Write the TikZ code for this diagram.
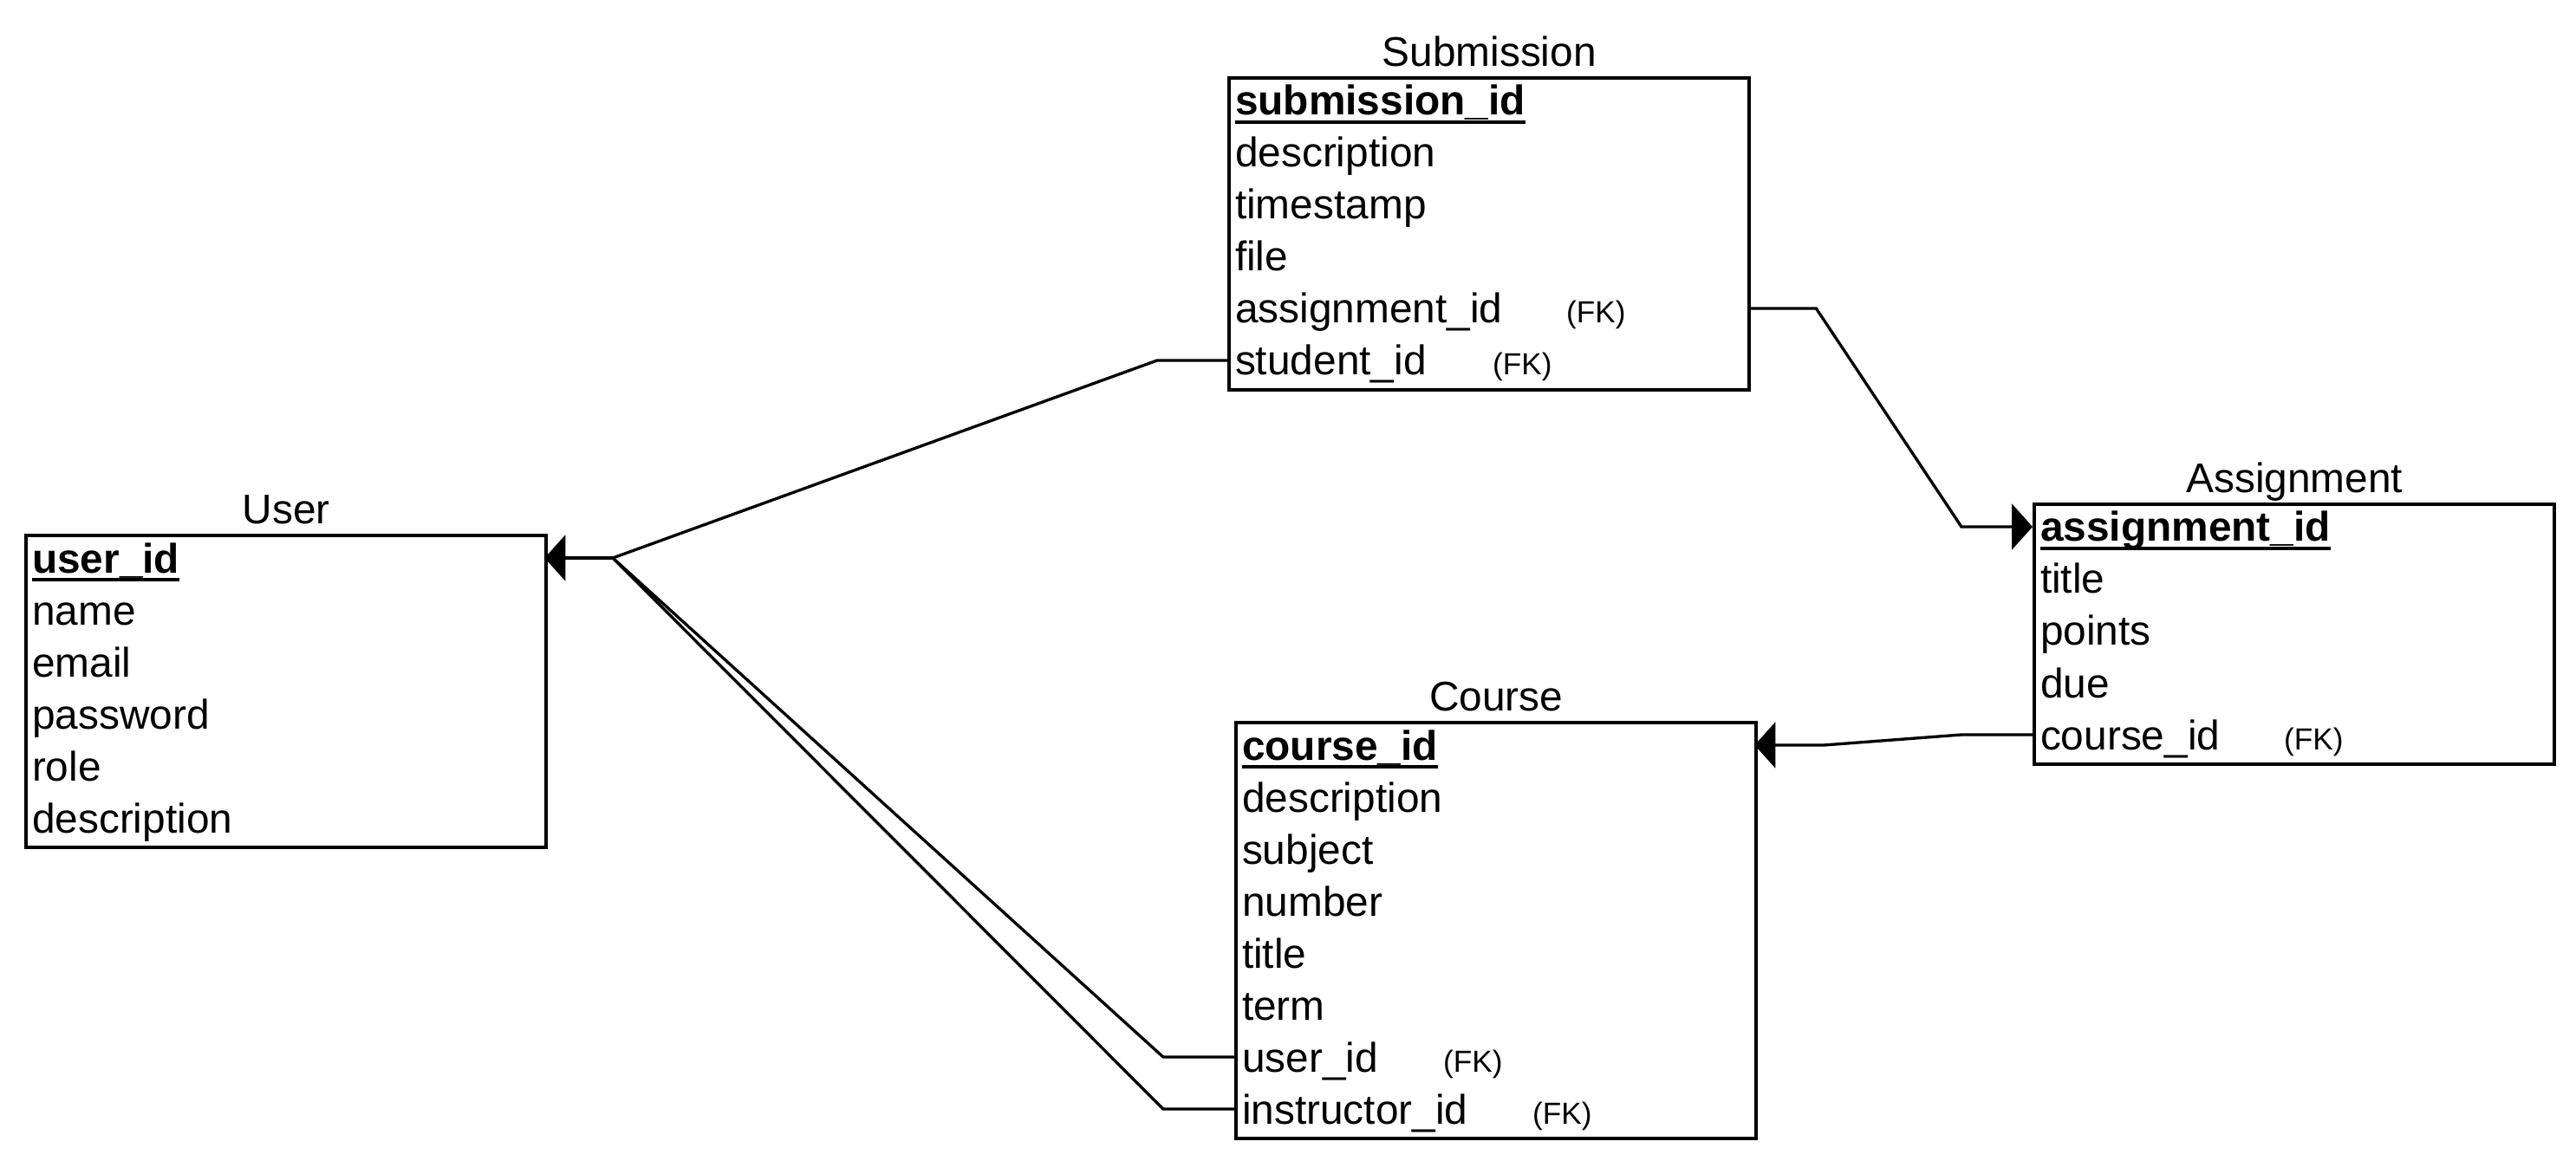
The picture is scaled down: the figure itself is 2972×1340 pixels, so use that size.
\documentclass[tikz,border=0pt]{standalone}
\usepackage{fontspec}
\setmainfont{Liberation Sans}
\usetikzlibrary{arrows.meta}
\newcommand\fs{\fontsize{13.6pt}{16pt}\selectfont}
\newcommand\fkfs{\fontsize{10pt}{12pt}\selectfont}
\newcommand\fk{{\fkfs (FK)}}
\newsavebox\pkbox
\newcommand\pkul[1]{\sbox\pkbox{\textbf{#1}}\rlap{\rule[-2.8pt]{\wd\pkbox}{1.1pt}}\usebox\pkbox}
\begin{document}
\begin{tikzpicture}[x=0.01cm,y=-0.01cm,
  tbl/.style={draw, line width=1.15pt, inner sep=0pt, minimum width=6cm, anchor=north west},
  rowc/.style={anchor=west, inner xsep=0.09cm, inner ysep=0pt, outer sep=0pt, text width=5.82cm, align=left, text height=9.67pt, text depth=0pt, minimum height=0.6cm, font=\fs},
  ttl/.style={anchor=base, font=\fs, inner sep=0pt},
  conn/.style={line width=0.95pt, line join=miter},
  tip/.style={-{Triangle[length=6.8pt,width=15pt]}}
]
\useasboundingbox (0,0) rectangle (2972,1340);

% ---------- User ----------
\node[tbl, minimum height=3.6cm] (user) at (28,616) {};
\node[ttl] (userT) at ([yshift=0.11cm]user.north) {User};
\node[rowc] (u1) at (28,644) {\pkul{user\_id}};
\node[rowc] (u2) at (28,704) {name};
\node[rowc] (u3) at (28,764) {email};
\node[rowc] (u4) at (28,824) {password};
\node[rowc] (u5) at (28,884) {role};
\node[rowc] (u6) at (28,944) {description};

% ---------- Submission ----------
\node[tbl, minimum height=3.6cm] (sub) at (1416,88) {};
\node[ttl] (subT) at ([yshift=0.11cm]sub.north) {Submission};
\node[rowc] (s1) at (1416,116) {\pkul{submission\_id}};
\node[rowc] (s2) at (1416,176) {description};
\node[rowc] (s3) at (1416,236) {timestamp};
\node[rowc] (s4) at (1416,296) {file};
\node[rowc] (s5) at (1416,356) {\makebox[3.82cm][l]{assignment\_id}\fk};
\node[rowc] (s6) at (1416,416) {\makebox[2.97cm][l]{student\_id}\fk};

% ---------- Assignment ----------
\node[tbl, minimum height=3cm] (asg) at (2345,580) {};
\node[ttl] (asgT) at ([yshift=0.11cm]asg.north) {Assignment};
\node[rowc] (a1) at (2345,608) {\pkul{assignment\_id}};
\node[rowc] (a2) at (2345,668) {title};
\node[rowc] (a3) at (2345,728) {points};
\node[rowc] (a4) at (2345,788) {due};
\node[rowc] (a5) at (2345,848) {\makebox[2.81cm][l]{course\_id}\fk};

% ---------- Course ----------
\node[tbl, minimum height=4.8cm] (crs) at (1424,832) {};
\node[ttl] (crsT) at ([yshift=0.11cm]crs.north) {Course};
\node[rowc] (c1) at (1424,860) {\pkul{course\_id}};
\node[rowc] (c2) at (1424,920) {description};
\node[rowc] (c3) at (1424,980) {subject};
\node[rowc] (c4) at (1424,1040) {number};
\node[rowc] (c5) at (1424,1100) {title};
\node[rowc] (c6) at (1424,1160) {term};
\node[rowc] (c7) at (1424,1220) {\makebox[2.32cm][l]{user\_id}\fk};
\node[rowc] (c8) at (1424,1280) {\makebox[3.35cm][l]{instructor\_id}\fk};

% ---------- Connectors ----------
\coordinate (uj) at (707,644);
\draw[conn,tip] (uj) -- (u1.east);
\draw[conn] (s6.west) -- ++(-81,0) -- (uj);
\draw[conn] (c7.west) -- ++(-82,0) -- (uj);
\draw[conn] (c8.west) -- ++(-82,0) -- (uj);

\draw[conn,tip] (s5.east) -- ++(79,0) -- ([xshift=-0.82cm]a1.west) -- (a1.west);
\draw[conn,tip] (a5.west) -- ++(-82,0) -- ([xshift=0.8cm]c1.east) -- (c1.east);
\end{tikzpicture}
\end{document}
